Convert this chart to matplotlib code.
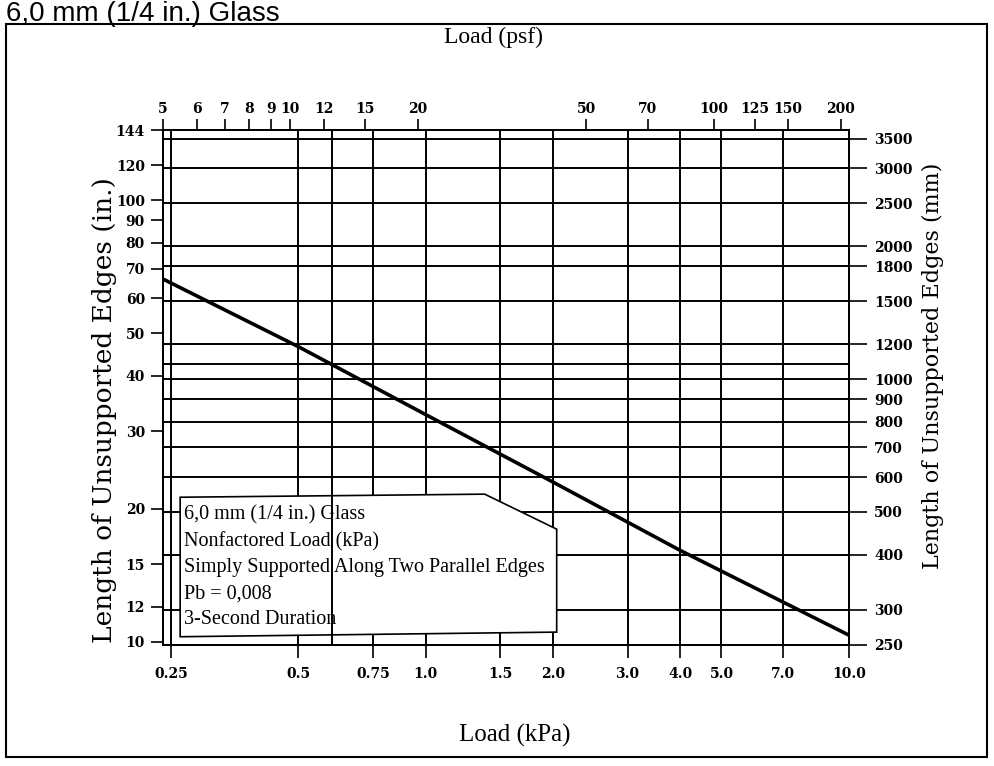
import matplotlib.pyplot as plt
from matplotlib.patches import Polygon, Rectangle
from matplotlib.ticker import NullLocator

# curve (load in kPa, length in inches)
load_kpa = [0.2394, 0.5, 1.0, 2.0, 4.0, 10.0]
length_in = [66.3, 46.6, 32.7, 23.0, 16.1, 10.36]

# axis ticks
kpa_ticks = [0.25, 0.5, 0.75, 1.0, 1.5, 2.0, 3.0, 4.0, 5.0, 7.0, 10.0]
kpa_labels = ["0.25", "0.5", "0.75", "1.0", "1.5", "2.0", "3.0", "4.0", "5.0", "7.0", "10.0"]
psf_ticks = [5, 6, 7, 8, 9, 10, 12, 15, 20, 50, 70, 100, 125, 150, 200]
in_ticks = [144, 120, 100, 90, 80, 70, 60, 50, 40, 30, 20, 15, 12, 10]
mm_ticks = [3500, 3000, 2500, 2000, 1800, 1500, 1200, 1000, 900, 800, 700, 600, 500, 400, 300, 250]

# grid lines
grid_kpa = [0.25, 0.5, 0.6, 0.75, 1.0, 1.5, 2.0, 3.0, 4.0, 5.0, 7.0, 10.0]
grid_in_extra = [42.5]

KPA_PER_PSF = 0.04788
MM_PER_IN = 25.4

legend_lines = ["6,0 mm (1/4 in.) Glass",
                "Nonfactored Load (kPa)",
                "Simply Supported Along Two Parallel Edges",
                "Pb = 0,008",
                "3-Second Duration"]

tick_font = {"family": "DejaVu Serif", "size": 10, "weight": "bold"}

fig = plt.figure(figsize=(9.94, 7.66), dpi=100)
ax = fig.add_axes([0.164, 0.158, 0.690, 0.672])

x_lo, x_hi = 5 * KPA_PER_PSF, 10.0
y_lo, y_hi = 250 / MM_PER_IN, 144

ax.set_xscale("log")
ax.set_yscale("log")
ax.set_xlim(x_lo, x_hi)
ax.set_ylim(y_lo, y_hi)

# grid
for v in grid_kpa:
    ax.axvline(v, color="black", lw=1.4, zorder=4 if v == 0.6 else 1)
for v in mm_ticks:
    ax.axhline(v / MM_PER_IN, color="black", lw=1.4, zorder=1)
for v in grid_in_extra:
    ax.axhline(v, color="black", lw=1.4, zorder=1)

ax.plot(load_kpa, length_in, color="black", lw=2.6, zorder=2)

# legend box
box = Polygon([(0.025, 0.287), (0.469, 0.293), (0.574, 0.225), (0.574, 0.025), (0.025, 0.016)],
              closed=True, transform=ax.transAxes, facecolor="white", edgecolor="black",
              lw=1.2, zorder=3)
ax.add_patch(box)
ax.text(0.030, 0.271, "\n".join(legend_lines), transform=ax.transAxes, va="top", ha="left",
        family="Liberation Serif", fontsize=14.5, linespacing=1.5, zorder=5)

# bottom / left ticks
ax.set_xticks(kpa_ticks)
ax.set_xticklabels(kpa_labels, fontdict=tick_font)
ax.set_yticks(in_ticks)
ax.set_yticklabels([str(t) for t in in_ticks], fontdict=tick_font)
ax.xaxis.set_minor_locator(NullLocator())
ax.yaxis.set_minor_locator(NullLocator())
ax.tick_params(axis="x", direction="out", length=9, width=1.2, pad=7)
ax.tick_params(axis="y", direction="out", length=9, width=1.2, pad=4)

# top axis in psf
axt = ax.twiny()
axt.set_xscale("log")
axt.set_xlim(x_lo / KPA_PER_PSF, x_hi / KPA_PER_PSF)
axt.set_xticks(psf_ticks)
axt.set_xticklabels([str(t) for t in psf_ticks], fontdict=tick_font)
axt.xaxis.set_minor_locator(NullLocator())
axt.tick_params(axis="x", direction="out", length=8, width=1.2, pad=2)

# right axis in mm
axr = ax.twinx()
axr.set_yscale("log")
axr.set_ylim(y_lo * MM_PER_IN, y_hi * MM_PER_IN)
axr.set_yticks(mm_ticks)
axr.set_yticklabels([str(t) for t in mm_ticks], fontdict=tick_font)
axr.yaxis.set_minor_locator(NullLocator())
axr.tick_params(axis="y", direction="out", length=13, width=1.2, pad=5)

for a in (ax, axt, axr):
    for s in a.spines.values():
        s.set_linewidth(1.4)

# axis titles
fig.text(493 / 994, 1 - 43 / 766, "Load (psf)", ha="center", va="baseline",
         family="Liberation Serif", fontsize=17)
fig.text(515 / 994, 1 - 735 / 766, "Load (kPa)", ha="center", va="center",
         family="Liberation Serif", fontsize=18)
fig.text(105 / 994, 1 - 410 / 766, "Length of Unsupported Edges (in.)", rotation=90,
         ha="center", va="center", family="DejaVu Serif", fontsize=19)
fig.text(933 / 994, 1 - 366 / 766, "Length of Unsupported Edges (mm)", rotation=90,
         ha="center", va="center", family="DejaVu Serif", fontsize=16)

# page title and outer frame
fig.text(6 / 994, 1 - 21 / 766, "6,0 mm (1/4 in.) Glass", ha="left", va="baseline",
         family="Liberation Sans", fontsize=20)
fig.add_artist(Rectangle((6 / 994, 1 - 757 / 766), 981 / 994, 733 / 766,
                         transform=fig.transFigure, fill=False, lw=1.5, color="black"))

fig.savefig("out.png", dpi=100)
